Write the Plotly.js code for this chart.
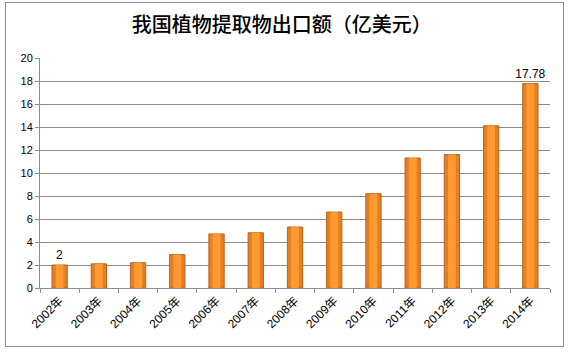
<!DOCTYPE html>
<html>
<head>
<meta charset="utf-8">
<script src="https://cdn.plot.ly/plotly-3.0.1.min.js"></script>
<style>
  html, body { margin: 0; padding: 0; background: #fff; }
  #wrap { position: relative; width: 569px; height: 353px; }
  #chart { width: 569px; height: 353px; }
  #frame { position: absolute; left: 5px; top: 2px; width: 557px; height: 343px;
           border: 1px solid #8c8c8c; pointer-events: none; }
</style>
</head>
<body>
<div id="wrap">
  <div id="chart"></div>
  <div id="frame"></div>
</div>
<script>
const years = ['2002年','2003年','2004年','2005年','2006年','2007年','2008年','2009年','2010年','2011年','2012年','2013年','2014年'];
const exportValues = [2, 2.1, 2.2, 2.9, 4.7, 4.8, 5.3, 6.6, 8.2, 11.3, 11.6, 14.1, 17.78];
const labelledIdx = [0, 12];
const yTicks = [0, 2, 4, 6, 8, 10, 12, 14, 16, 18, 20];
const chartTitle = '我国植物提取物出口额（亿美元）';

const labels = exportValues.map((v, i) => labelledIdx.includes(i) ? String(v) : '');

const traces = [{
  type: 'bar',
  x: years,
  y: exportValues,
  width: 0.39,
  text: labels,
  textposition: 'outside',
  constraintext: 'none',
  cliponaxis: false,
  textfont: { family: 'Liberation Sans, Arial, sans-serif', size: 12, color: '#000' },
  marker: { color: '#E47F22', line: { color: '#B8621A', width: 1 } },
  hoverinfo: 'x+y'
}, {
  type: 'bar',
  x: years,
  y: exportValues,
  width: 0.2,
  marker: { color: '#FF9A33', line: { width: 0 } },
  hoverinfo: 'skip'
}];

const layout = {
  width: 569, height: 353,
  margin: { l: 40, r: 19, t: 58, b: 65 },
  paper_bgcolor: '#fff', plot_bgcolor: '#fff',
  barmode: 'overlay',
  showlegend: false,
  title: {
    text: chartTitle,
    font: { family: 'Noto Sans CJK SC, sans-serif', size: 20, color: '#000', weight: 500 },
    x: 0.495, xanchor: 'center', y: 0.93, yanchor: 'middle'
  },
  xaxis: {
    type: 'category',
    tickangle: -45,
    tickfont: { family: 'Liberation Sans, Noto Sans CJK SC, sans-serif', size: 12, color: '#000' },
    showline: true, linecolor: '#8c8c8c', linewidth: 1,
    ticks: 'outside', ticklen: 4, tickcolor: '#8c8c8c',
    tickson: 'boundaries',
    showgrid: false, zeroline: false
  },
  yaxis: {
    range: [0, 20],
    tickvals: yTicks,
    tickfont: { family: 'Liberation Sans, sans-serif', size: 11, color: '#000' },
    showline: true, linecolor: '#8c8c8c', linewidth: 1,
    ticks: 'outside', ticklen: 4, tickcolor: '#8c8c8c',
    showgrid: true, gridcolor: '#8c8c8c', gridwidth: 1,
    zeroline: false
  }
};

Plotly.newPlot('chart', traces, layout, { displayModeBar: false, staticPlot: true });
</script>
</body>
</html>
